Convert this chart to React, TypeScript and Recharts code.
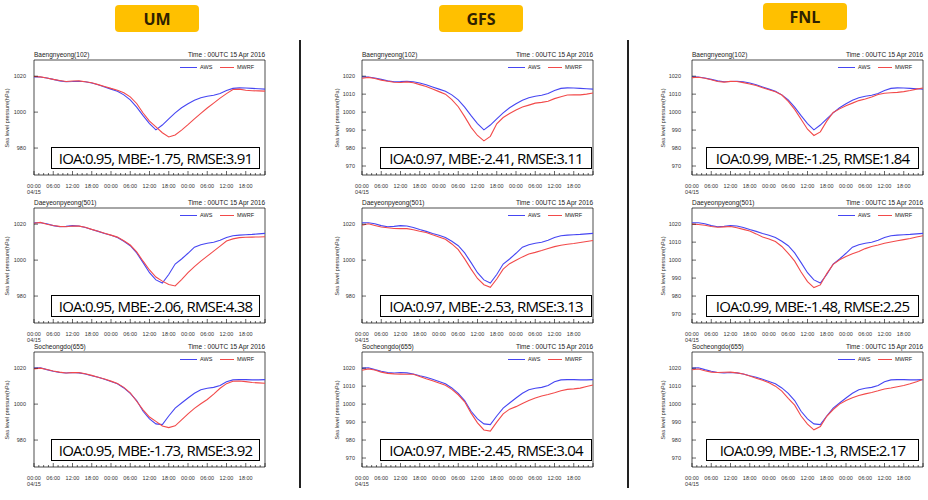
import { LineChart, Line, XAxis, YAxis, ReferenceArea } from 'recharts';

// time axis (hours from 00UTC 15 Apr 2016), 2-hourly
const HOURS = [
  0, 2, 4, 6, 8, 10, 12, 14, 16, 18, 20, 22, 24, 26, 28, 30, 32, 34, 36,
  38, 40, 42, 44, 46, 48, 50, 52, 54, 56, 58, 60, 62, 64, 66, 68, 70, 72,
];
const X_MAJOR = [0, 6, 12, 18, 24, 30, 36, 42, 48, 54, 60, 66, 72];
const X_LABELS = ['00:00', '06:00', '12:00', '18:00', '00:00', '06:00', '12:00', '18:00', '00:00', '06:00', '12:00', '18:00'];
const X_MINOR_STEPS = [1.5, 3, 4.5];

const MODELS = ['UM', 'GFS', 'FNL'];
const STATIONS = ['Baengnyeong(102)', 'Daeyeonpyeong(501)', 'Socheongdo(655)'];
const TIME_LABEL = 'Time : 00UTC 15 Apr 2016';

// observations (same station in every column)
const AWS_102 = [
  1019.6, 1019.5, 1019.0, 1018.2, 1017.4, 1016.9, 1017.0, 1017.2, 1016.9, 1016.2, 1015.2, 1014.0,
  1012.8, 1011.6, 1009.6, 1006.8, 1002.8, 998.0, 993.6, 990.1, 992.8, 996.2, 999.6, 1002.4,
  1004.6, 1006.6, 1008.0, 1008.8, 1009.4, 1010.4, 1012.0, 1013.2, 1013.5, 1013.4, 1013.2, 1013.0, 1012.8,
];
const AWS_501 = [
  1020.8, 1020.8, 1020.2, 1019.2, 1018.6, 1018.8, 1019.2, 1019.0, 1018.2, 1017.0, 1016.0, 1014.8,
  1013.8, 1012.6, 1010.5, 1008.0, 1004.0, 998.6, 993.0, 989.0, 987.2, 992.0, 997.8, 1000.6,
  1003.8, 1007.2, 1008.6, 1009.4, 1009.9, 1011.0, 1012.6, 1013.6, 1013.9, 1014.1, 1014.3, 1014.6, 1014.9,
];
const AWS_655 = [
  1020.0, 1020.2, 1019.2, 1018.3, 1017.6, 1017.3, 1017.6, 1017.4, 1016.8, 1015.8, 1014.9, 1013.8,
  1012.6, 1011.3, 1009.0, 1006.0, 1002.0, 996.0, 991.8, 989.0, 988.6, 993.4, 997.8, 1000.6,
  1003.4, 1006.0, 1008.0, 1008.8, 1009.3, 1010.4, 1012.4, 1013.5, 1013.6, 1013.6, 1013.5, 1013.5, 1013.6,
];

// MWRF runs driven by UM
const UM_102 = [
  1019.8, 1019.6, 1019.0, 1018.2, 1017.6, 1017.0, 1017.3, 1017.4, 1016.9, 1016.3, 1015.3, 1014.3,
  1013.2, 1012.2, 1010.8, 1008.5, 1004.8, 999.5, 995.0, 991.8, 988.5, 986.2, 987.3, 990.0,
  993.0, 996.2, 999.3, 1002.3, 1005.0, 1007.8, 1010.3, 1012.6, 1012.8, 1012.2, 1011.9, 1011.8, 1011.7,
];
const UM_501 = [
  1020.5, 1021.0, 1020.0, 1019.3, 1018.8, 1018.6, 1019.0, 1018.9, 1018.3, 1017.1, 1016.1, 1015.0,
  1013.9, 1012.8, 1010.8, 1008.4, 1004.6, 999.4, 994.5, 990.6, 988.3, 986.4, 985.6, 989.2,
  993.0, 996.4, 999.4, 1002.2, 1005.0, 1007.8, 1010.6, 1011.8, 1012.5, 1012.7, 1012.8, 1012.9, 1013.0,
];
const UM_655 = [
  1019.6, 1020.0, 1019.3, 1018.4, 1017.8, 1017.3, 1017.5, 1017.5, 1016.9, 1016.0, 1015.0, 1014.0,
  1012.8, 1011.5, 1009.3, 1006.3, 1001.6, 996.8, 992.8, 990.4, 987.8, 986.9, 987.9, 991.2,
  994.6, 997.6, 1000.2, 1002.6, 1005.6, 1008.8, 1011.4, 1012.7, 1012.9, 1012.5, 1012.0, 1011.8, 1011.6,
];

// MWRF runs driven by GFS
const GFS_102 = [
  1018.8, 1019.3, 1018.7, 1017.8, 1017.2, 1016.6, 1016.5, 1016.8, 1016.3, 1015.3, 1014.2, 1012.8,
  1011.4, 1010.0, 1007.0, 1003.0, 997.5, 991.5, 987.0, 984.0, 986.5, 993.5, 997.0, 999.2,
  1001.2, 1002.8, 1003.9, 1005.0, 1005.4, 1006.0, 1007.5, 1008.6, 1009.5, 1009.6, 1009.6, 1010.0, 1010.6,
];
const GFS_501 = [
  1019.4, 1020.2, 1019.3, 1018.4, 1018.0, 1017.6, 1017.5, 1017.5, 1016.9, 1016.1, 1015.4, 1014.1,
  1012.9, 1011.6, 1009.0, 1005.8, 1000.7, 995.0, 989.8, 986.3, 984.9, 989.5, 995.0, 998.0,
  999.9, 1001.8, 1003.4, 1004.3, 1005.3, 1006.5, 1007.5, 1008.3, 1008.8, 1009.2, 1009.8, 1010.4, 1010.9,
];
const GFS_655 = [
  1018.8, 1019.6, 1019.0, 1017.8, 1017.1, 1016.8, 1016.7, 1016.6, 1016.6, 1015.4, 1014.1, 1013.0,
  1011.7, 1010.5, 1008.2, 1005.2, 1001.3, 995.0, 989.6, 985.6, 985.0, 990.0, 994.6, 997.2,
  998.6, 1000.4, 1002.0, 1003.4, 1004.5, 1005.3, 1006.3, 1007.4, 1008.2, 1008.5, 1008.9, 1009.8, 1010.6,
];

// MWRF runs driven by FNL
const FNL_102 = [
  1019.2, 1019.4, 1018.8, 1018.0, 1017.0, 1016.7, 1017.1, 1017.0, 1016.4, 1015.6, 1014.8, 1013.6,
  1012.4, 1011.3, 1009.5, 1006.0, 1001.5, 996.0, 990.5, 987.0, 989.0, 995.0, 999.8, 1001.8,
  1003.5, 1005.0, 1006.4, 1007.3, 1008.4, 1009.8, 1010.5, 1010.8, 1011.0, 1011.4, 1012.0, 1012.8, 1013.4,
];
const FNL_501 = [
  1020.0, 1019.8, 1019.4, 1018.7, 1018.3, 1018.5, 1018.7, 1018.0, 1017.1, 1016.2, 1014.6, 1012.8,
  1011.8, 1010.3, 1007.6, 1003.8, 999.4, 993.4, 988.0, 984.7, 986.2, 992.5, 997.6, 1000.2,
  1002.0, 1003.5, 1004.8, 1006.4, 1007.6, 1008.4, 1009.4, 1010.1, 1010.8, 1011.4, 1012.0, 1012.9, 1013.6,
];
const FNL_655 = [
  1019.1, 1019.5, 1018.6, 1017.8, 1017.6, 1017.7, 1017.8, 1017.4, 1016.8, 1015.6, 1014.4, 1013.3,
  1011.9, 1010.0, 1007.2, 1003.2, 999.4, 993.4, 988.9, 985.7, 987.5, 993.2, 997.0, 1000.0,
  1002.0, 1003.6, 1004.8, 1005.7, 1006.5, 1007.4, 1008.4, 1009.0, 1009.7, 1010.4, 1011.3, 1012.4, 1013.8,
];

const AWS = [AWS_102, AWS_501, AWS_655];
const WRF = [
  [UM_102, UM_501, UM_655],
  [GFS_102, GFS_501, GFS_655],
  [FNL_102, FNL_501, FNL_655],
];

// verification scores, [model][station]
const IOA = [
  ['0.95', '0.95', '0.95'],
  ['0.97', '0.97', '0.97'],
  ['0.99', '0.99', '0.99'],
];
const MBE = [
  ['-1.75', '-2.06', '-1.73'],
  ['-2.41', '-2.53', '-2.45'],
  ['-1.25', '-1.48', '-1.3'],
];
const RMSE = [
  ['3.91', '4.38', '3.92'],
  ['3.11', '3.13', '3.04'],
  ['1.84', '2.25', '2.17'],
];

const Y_TICKS_20 = [980, 1000, 1020];
const Y_TICKS_10 = [970, 980, 990, 1000, 1010, 1020];
const Y_TICKS = [
  [Y_TICKS_20, Y_TICKS_20, Y_TICKS_20],
  [Y_TICKS_10, Y_TICKS_20, Y_TICKS_10],
  [Y_TICKS_10, Y_TICKS_10, Y_TICKS_10],
];
const Y_DOMAIN = [965, 1029];

// layout
const PLOT_LEFT = [34, 362, 692];
const PLOT_TOP = [60, 208, 352];
const PLOT_W = 231;
const PLOT_H = 115;
const ML = 44;
const MT = 10;
const MR = 4;
const MB = 26;
const TICK_GAP = [8, 7, 11];
const YLABEL_OFF = [27, 25, 29];
const BOX_X = [
  [51, 260],
  [380, 592],
  [706, 919],
];
const HEADER_X = [115, 439, 763];

const FONT = '"Liberation Sans", Arial, sans-serif';
const BLUE = '#4646f2';
const RED = '#f24a4a';

const xTicks = X_MAJOR.flatMap((h) => (h < 72 ? [h, ...X_MINOR_STEPS.map((s) => h + s)] : [h]));

const XTick = ({ x, y, payload }: any) => {
  const v = payload.value;
  const major = v % 6 === 0;
  return (
    <g>
      <line x1={x} x2={x} y1={y} y2={y - (major ? 4 : 2)} stroke="#000" strokeWidth={0.6} />
      {major && v < 72 && (
        <text x={x} y={y + 13} textAnchor="middle" fontSize={5.5} fill="#333" fontFamily={FONT}>
          {X_LABELS[v / 6]}
        </text>
      )}
      {v === 0 && (
        <text x={x} y={y + 19} textAnchor="middle" fontSize={5.5} fill="#333" fontFamily={FONT}>
          04/15
        </text>
      )}
    </g>
  );
};

const makeYTick = (gap: number) => ({ x, y, payload }: any) => (
  <g>
    <line x1={x} x2={x + 4} y1={y} y2={y} stroke="#000" strokeWidth={0.6} />
    <text x={x - gap} y={y + 2} textAnchor="end" fontSize={5.5} fill="#333" fontFamily={FONT}>
      {payload.value}
    </text>
  </g>
);

const abs = (left: number, top: number, extra: any = {}) => ({
  position: 'absolute' as const,
  left,
  top,
  ...extra,
});

const Panel = ({ col, row }: { col: number; row: number }) => {
  const left = PLOT_LEFT[col];
  const top = PLOT_TOP[row];
  const right = left + PLOT_W;
  const data = HOURS.map((h, i) => ({ hour: h, aws: AWS[row][i], wrf: WRF[col][row][i] }));
  const small = { fontFamily: FONT, fontSize: 6.5, color: '#222', whiteSpace: 'nowrap' as const, lineHeight: '8px' };
  const legendText = { fontFamily: FONT, fontSize: 5.5, color: '#222', lineHeight: '6px' };
  const [bx0, bx1] = BOX_X[col];

  return (
    <>
      <div style={abs(left - ML, top - MT)}>
        <LineChart
          width={ML + PLOT_W + MR}
          height={MT + PLOT_H + MB}
          data={data}
          margin={{ top: MT, right: MR, left: 0, bottom: 0 }}
        >
          <XAxis
            dataKey="hour"
            type="number"
            domain={[0, 72]}
            ticks={xTicks}
            interval={0}
            height={MB}
            tickSize={0}
            tickMargin={0}
            axisLine={false}
            tickLine={false}
            tick={XTick}
          />
          <YAxis
            type="number"
            domain={Y_DOMAIN}
            ticks={Y_TICKS[col][row]}
            interval={0}
            width={ML}
            tickSize={0}
            tickMargin={0}
            axisLine={false}
            tickLine={false}
            tick={makeYTick(TICK_GAP[col])}
          />
          <ReferenceArea x1={0} x2={72} y1={Y_DOMAIN[0]} y2={Y_DOMAIN[1]} fill="none" stroke="#000" strokeWidth={0.7} />
          <Line type="linear" dataKey="aws" stroke={BLUE} strokeWidth={1.1} dot={false} isAnimationActive={false} />
          <Line type="linear" dataKey="wrf" stroke={RED} strokeWidth={1.1} dot={false} isAnimationActive={false} />
        </LineChart>
      </div>

      <div style={abs(left - YLABEL_OFF[col] - 50, top + PLOT_H / 2 - 4, { width: 100, textAlign: 'center', transform: 'rotate(-90deg)', fontFamily: FONT, fontSize: 5.5, color: '#333', lineHeight: '8px' })}>
        Sea level pressure(hPa)
      </div>

      <div style={abs(left, top - 9, small)}>{STATIONS[row]}</div>
      <div style={abs(right - 150, top - 9, { ...small, width: 150, textAlign: 'right' })}>{TIME_LABEL}</div>

      <div style={abs(right - 85, top + 4, { display: 'flex', alignItems: 'center', ...legendText })}>
        <span style={{ width: 17, height: 1, background: BLUE, display: 'inline-block' }} />
        <span style={{ marginLeft: 3, width: 20 }}>AWS</span>
        <span style={{ width: 14, height: 1, background: RED, display: 'inline-block' }} />
        <span style={{ marginLeft: 3 }}>MWRF</span>
      </div>

      <div
        style={abs(bx0, top + 87, {
          width: bx1 - bx0,
          height: 22,
          boxSizing: 'border-box',
          border: '1px solid #000',
          background: '#fff',
          display: 'flex',
          alignItems: 'center',
          justifyContent: 'center',
          fontFamily: '"Open Sans", "Noto Sans", sans-serif',
          fontSize: 15,
          letterSpacing: -0.8,
          color: '#000',
          whiteSpace: 'nowrap',
        })}
      >
        {`IOA:${IOA[col][row]}, MBE:${MBE[col][row]}, RMSE:${RMSE[col][row]}`}
      </div>
    </>
  );
};

export default function App() {
  return (
    <div style={{ position: 'absolute', left: 0, top: 0, width: 928, height: 500, background: '#fff', overflow: 'hidden' }}>
      {MODELS.map((m, i) => (
        <div
          key={m}
          style={abs(HEADER_X[i], i === 2 ? 3 : 5, {
            width: 84,
            height: 27,
            background: '#ffc000',
            borderRadius: 4,
            display: 'flex',
            alignItems: 'center',
            justifyContent: 'center',
            fontFamily: '"Open Sans", sans-serif',
            fontWeight: 700,
            fontSize: 16,
            color: '#2e2100',
          })}
        >
          {m}
        </div>
      ))}
      <div style={abs(299, 40, { width: 2, height: 448, background: '#222' })} />
      <div style={abs(627, 40, { width: 2, height: 448, background: '#222' })} />
      {[0, 1, 2].map((col) =>
        [0, 1, 2].map((row) => <Panel key={`${col}-${row}`} col={col} row={row} />),
      )}
    </div>
  );
}
